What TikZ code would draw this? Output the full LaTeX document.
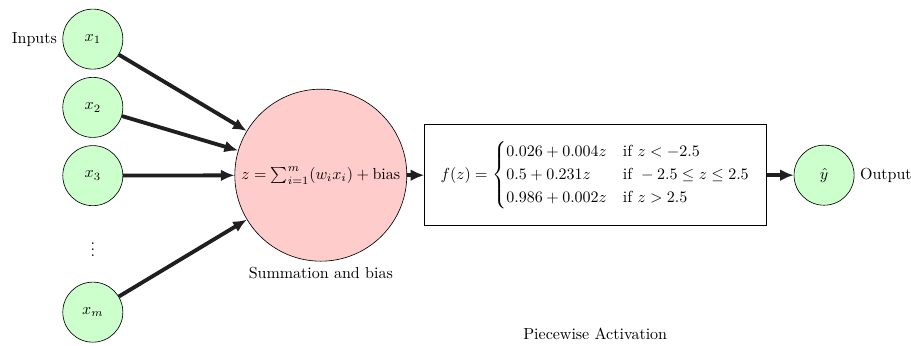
\documentclass[tikz,border=0pt]{standalone}
\usepackage{amsmath,amssymb}
\usetikzlibrary{arrows.meta,positioning}

\begin{document}
\begin{tikzpicture}[
    neuron/.style={circle, draw, fill=green!20, minimum size=1.32cm},
    sumnode/.style={circle, draw, fill=red!20, minimum size=3.78cm, inner sep=0pt},
    actbox/.style={rectangle, draw, fill=white, inner sep=10pt},
    conn/.style={-{Latex[length=3mm,width=2.6mm]}, line width=2.4pt, black!88}
]
    \useasboundingbox (0,0) rectangle (20.02,7.60);

    % Input neurons
    \node[neuron] (x1) at (2.04,6.74) {$x_1$};
    \node[neuron] (x2) at (2.04,5.24) {$x_2$};
    \node[neuron] (x3) at (2.04,3.74) {$x_3$};
    \node (dots) at (2.04,2.22) {$\vdots$};
    \node[neuron] (xm) at (2.04,0.74) {$x_m$};
    \node[left] (inlabel) at (x1.west) {Inputs};

    % Summation and bias
    \node[sumnode] (sum) at (7.05,3.75) {$z = \sum_{i=1}^{m} (w_i x_i) + \text{bias}$};
    \node[below] (sumlabel) at (sum.south) {Summation and bias};

    % Piecewise activation
    \node[actbox] (act) at (13.09,3.75) {$f(z) = \begin{cases}
        0.026 + 0.004z & \text{if } z < -2.5 \\
        0.5 + 0.231z & \text{if } -2.5 \leq z \leq 2.5 \\
        0.986 + 0.002z & \text{if } z > 2.5
    \end{cases}$};
    \node (actlabel) at (13.08,0.26) {Piecewise Activation};

    % Output
    \node[neuron] (y) at (18.11,3.75) {$\hat{y}$};
    \node[right] (outlabel) at (y.east) {Output};

    % Connections
    \foreach \i in {x1,x2,x3,xm} {
        \draw[conn] (\i) -- (sum);
    }
    \draw[conn] (sum) -- (act);
    \draw[conn] (act) -- (y);
\end{tikzpicture}
\end{document}
